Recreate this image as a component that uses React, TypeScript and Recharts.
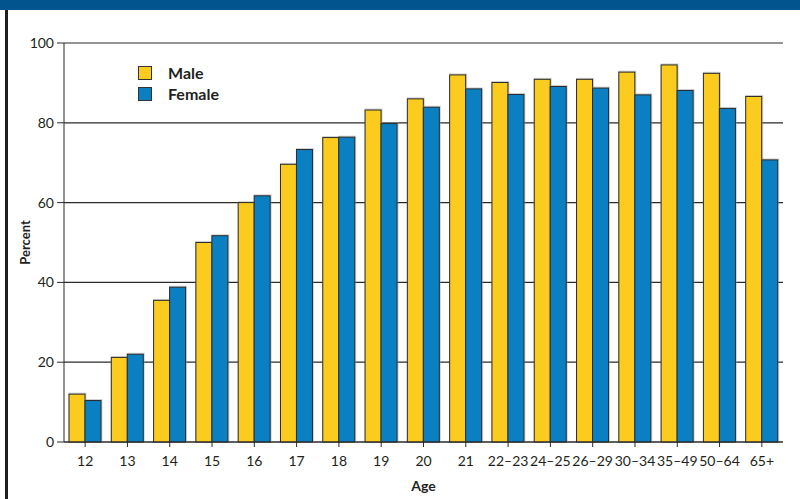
import { Bar, BarChart, CartesianGrid, XAxis, YAxis } from 'recharts';

const ageGroups = ['12', '13', '14', '15', '16', '17', '18', '19', '20', '21', '22–23', '24–25', '26–29', '30–34', '35–49', '50–64', '65+'];
const maleValues = [12, 21.2, 35.5, 50, 60, 69.6, 76.3, 83.2, 86, 92, 90.1, 90.9, 90.9, 92.7, 94.5, 92.4, 86.6];
const femaleValues = [10.4, 22, 38.8, 51.7, 61.7, 73.3, 76.4, 79.8, 83.9, 88.5, 87.1, 89.1, 88.7, 87, 88.1, 83.6, 70.7];
const yTicks = [0, 20, 40, 60, 80, 100];
const seriesNames = ['Male', 'Female'];

const MALE = '#fbcc1d';
const FEMALE = '#0a80c3';
const INK = '#231f20';
const FONT = 'Lato, "Open Sans", sans-serif';

const data = ageGroups.map((age, i) => ({ age, male: maleValues[i], female: femaleValues[i] }));

// bar with a thin dark outline and a faint grey halo, as in the print original
function OutlinedBar(props: any) {
  const { x, y, width, height, fill } = props;
  if (!height || height <= 0) return null;
  return (
    <g>
      <rect x={x - 0.5} y={y - 1.5} width={width + 2} height={height + 1.5} fill="#9a9a9a" opacity={0.45} />
      <rect x={x} y={y} width={width} height={height} fill={fill} stroke="#2b2b2b" strokeWidth={1} />
    </g>
  );
}

// legend kept outside recharts so it doesn't eat into the plot margins
function LegendBox() {
  const colors = [MALE, FEMALE];
  return (
    <div style={{ position: 'absolute', left: 138, top: 62, fontFamily: FONT }}>
      {seriesNames.map((name, i) => (
        <div key={name} style={{ display: 'flex', alignItems: 'center', height: 21 }}>
          <span
            style={{
              width: 12,
              height: 12,
              background: colors[i],
              border: '1px solid #333',
              marginRight: 16,
            }}
          />
          <span style={{ fontSize: 16, fontWeight: 700, color: INK }}>{name}</span>
        </div>
      ))}
    </div>
  );
}

function PercentLabel({ viewBox }: any) {
  const cx = viewBox.x + 11;
  const cy = viewBox.y + viewBox.height / 2;
  return (
    <text
      x={cx}
      y={cy}
      transform={`rotate(-90, ${cx}, ${cy})`}
      textAnchor="middle"
      dominantBaseline="central"
      fontFamily={FONT}
      fontSize={13}
      fontWeight={700}
      fill={INK}
    >
      Percent
    </text>
  );
}

export default function App() {
  return (
    <div style={{ position: 'fixed', left: 0, top: 0, width: 800, height: 499, background: '#fff', overflow: 'hidden' }}>
      <div style={{ position: 'absolute', left: 0, top: 0, width: 800, height: 10, background: '#02548f' }} />
      <div style={{ position: 'absolute', left: 5, top: 10, width: 3, height: 489, background: '#1e1e1e' }} />
      <BarChart
        width={800}
        height={499}
        data={data}
        margin={{ top: 43, right: 17, bottom: 27, left: 14 }}
        barSize={16}
        barGap={0}
      >
        <CartesianGrid vertical={false} stroke="#2a2a2a" strokeWidth={1.2} />
        <XAxis
          dataKey="age"
          height={30}
          stroke="#2a2a2a"
          tickSize={5}
          tickMargin={9}
          interval={0}
          tick={{ fill: INK, fontSize: 14, fontFamily: FONT }}
          label={{ value: 'Age', position: 'bottom', offset: 9, fill: INK, fontSize: 14, fontWeight: 700, fontFamily: FONT }}
        />
        <YAxis
          width={50}
          domain={[0, 100]}
          ticks={yTicks}
          stroke="#2a2a2a"
          tickSize={7}
          tickMargin={3}
          tick={{ fill: INK, fontSize: 14, fontFamily: FONT }}
          label={{ content: PercentLabel }}
        />
        <Bar dataKey="male" name="Male" fill={MALE} shape={OutlinedBar} isAnimationActive={false} />
        <Bar dataKey="female" name="Female" fill={FEMALE} shape={OutlinedBar} isAnimationActive={false} />
      </BarChart>
      <LegendBox />
    </div>
  );
}
